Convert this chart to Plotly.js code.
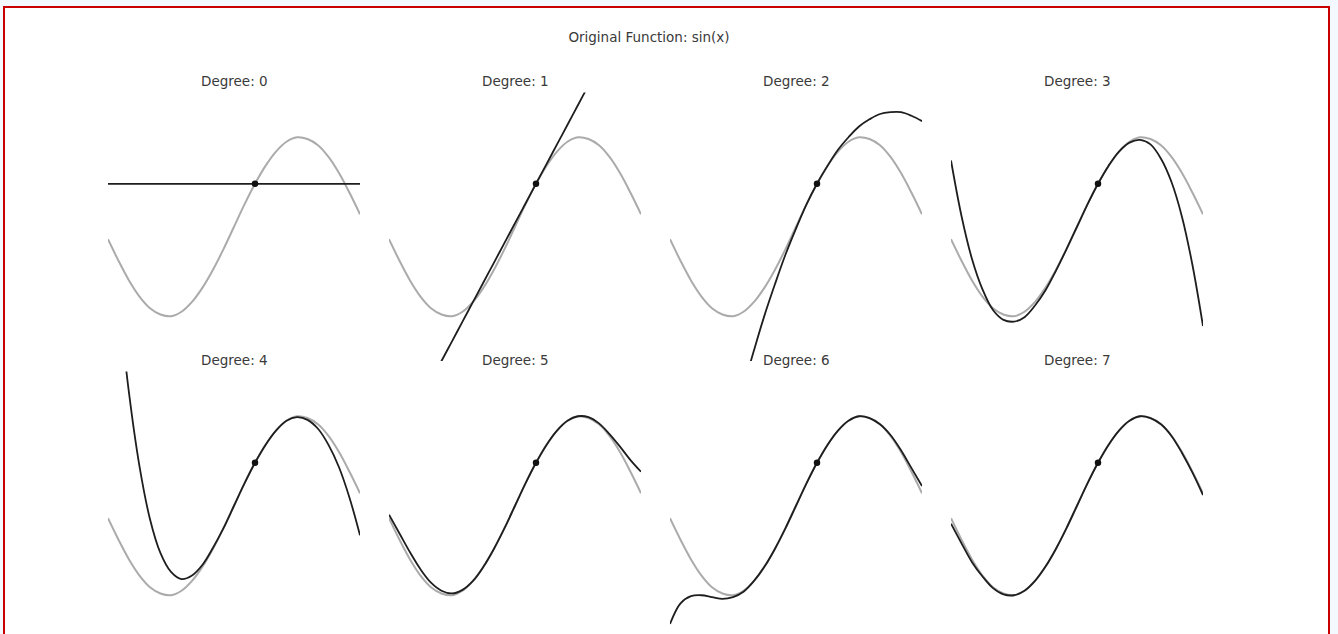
<!DOCTYPE html>
<html>
<head>
<meta charset="utf-8">
<script src="https://cdn.plot.ly/plotly-3.0.1.min.js"></script>
<style>
  html, body { margin: 0; padding: 0; overflow: hidden; background: #f3f9ff; }
  #frame {
    position: absolute; left: 3px; top: 6px; width: 1327px; height: 700px;
    box-sizing: border-box; border: 2px solid #c80000; border-bottom: none; background: #fff;
  }
  #myPlot { position: absolute; left: 0; top: 0; width: 1338px; height: 660px; }
</style>
</head>
<body>
<div id="frame"></div>
<div id="myPlot"></div>
<script>
// sample points along x
const xVals = [-3, -2.75, -2.5, -2.25, -2, -1.75, -1.5, -1.25, -1, -0.75, -0.5, -0.25, 0,
               0.25, 0.5, 0.75, 1, 1.25, 1.5, 1.75, 2, 2.25, 2.5, 2.75, 3];

// grey curve: the original function
const sinVals = [-0.14, -0.38, -0.60, -0.78, -0.91, -0.98, -1.00, -0.95, -0.84, -0.68, -0.48, -0.25, 0.00,
                 0.25, 0.48, 0.68, 0.84, 0.95, 1.00, 0.98, 0.91, 0.78, 0.60, 0.38, 0.14];

// black curves: approximation of each degree
const deg0 = [0.48, 0.48, 0.48, 0.48, 0.48, 0.48, 0.48, 0.48, 0.48, 0.48, 0.48, 0.48, 0.48,
              0.48, 0.48, 0.48, 0.48, 0.48, 0.48, 0.48, 0.48, 0.48, 0.48, 0.48, 0.48];
const deg1 = [-2.59, -2.37, -2.15, -1.93, -1.71, -1.50, -1.28, -1.06, -0.84, -0.62, -0.40, -0.18, 0.04,
              0.26, 0.48, 0.70, 0.92, 1.14, 1.36, 1.58, 1.80, 2.02, 2.23, 2.45, 2.67];
const deg2 = [-5.53, -4.90, -4.31, -3.75, -3.21, -2.71, -2.23, -1.79, -1.38, -0.99, -0.64, -0.31, -0.02,
              0.25, 0.48, 0.68, 0.86, 1.00, 1.12, 1.20, 1.26, 1.28, 1.28, 1.24, 1.18];
const deg3 = [0.74, 0.12, -0.36, -0.70, -0.93, -1.04, -1.06, -1.01, -0.88, -0.71, -0.49, -0.25, 0.00,
              0.25, 0.48, 0.68, 0.84, 0.94, 0.97, 0.92, 0.76, 0.50, 0.11, -0.43, -1.11];
const deg4 = [3.74, 2.34, 1.26, 0.44, -0.15, -0.53, -0.74, -0.82, -0.78, -0.66, -0.47, -0.25, 0.00,
              0.25, 0.48, 0.68, 0.84, 0.95, 0.99, 0.96, 0.86, 0.68, 0.43, 0.09, -0.33];
const deg5 = [-0.10, -0.31, -0.52, -0.71, -0.86, -0.95, -0.98, -0.94, -0.84, -0.68, -0.48, -0.25, 0.00,
              0.25, 0.48, 0.68, 0.84, 0.95, 1.00, 0.99, 0.92, 0.80, 0.66, 0.51, 0.38];
const deg6 = [-1.32, -1.09, -1.01, -1.00, -1.02, -1.04, -1.02, -0.96, -0.84, -0.68, -0.48, -0.25, 0.00,
              0.25, 0.48, 0.68, 0.84, 0.95, 1.00, 0.98, 0.91, 0.79, 0.62, 0.42, 0.22];
const deg7 = [-0.20, -0.42, -0.63, -0.79, -0.92, -0.99, -1.00, -0.95, -0.84, -0.68, -0.48, -0.25, 0.00,
              0.25, 0.48, 0.68, 0.84, 0.95, 1.00, 0.98, 0.91, 0.78, 0.59, 0.37, 0.12];

const degrees = [0, 1, 2, 3, 4, 5, 6, 7];
const approx = [deg0, deg1, deg2, deg3, deg4, deg5, deg6, deg7];

// expansion point
const centerX = [0.5];
const centerY = [0.48];

const mainTitle = "Original Function: sin(x)";

// pixel geometry of the figure
const W = 1338, H = 660;
const panelW = 252, panelStep = 281, firstLeft = 108;
const rowTop = [92.5, 371.5], rowH = 268.5;

const textFont = {family: "DejaVu Sans, sans-serif", size: 13.5, color: "#3a3a3a"};

let data = [];
let layout = {
  width: W, height: H,
  margin: {l: 0, r: 0, t: 0, b: 0},
  paper_bgcolor: "rgba(0,0,0,0)",
  plot_bgcolor: "rgba(0,0,0,0)",
  showlegend: false,
  title: {text: mainTitle, font: textFont, x: 649 / W, xanchor: "center",
          y: 1 - 37 / H, yanchor: "middle", xref: "paper", yref: "paper"},
  annotations: []
};

degrees.forEach(function (d, i) {
  const col = i % 4, row = Math.floor(i / 4);
  const n = i + 1;
  const xa = "x" + (n === 1 ? "" : n), ya = "y" + (n === 1 ? "" : n);
  const left = firstLeft + col * panelStep;
  const top = rowTop[row];

  layout["xaxis" + (n === 1 ? "" : n)] = {
    domain: [left / W, (left + panelW) / W],
    range: [-3, 3], visible: false, fixedrange: true, anchor: ya
  };
  layout["yaxis" + (n === 1 ? "" : n)] = {
    domain: [1 - (top + rowH) / H, 1 - top / H],
    range: [-1.5, 1.5], visible: false, fixedrange: true, anchor: xa
  };

  data.push({
    x: xVals, y: sinVals, xaxis: xa, yaxis: ya, mode: "lines",
    line: {color: "#ababab", width: 2, shape: "spline"}, hoverinfo: "skip"
  });
  data.push({
    x: xVals, y: approx[i], xaxis: xa, yaxis: ya, mode: "lines",
    line: {color: "#1e1e1e", width: 1.8, shape: "spline"}, hoverinfo: "skip"
  });
  data.push({
    x: centerX, y: centerY, xaxis: xa, yaxis: ya, mode: "markers",
    marker: {color: "#111", size: 6.5}, hoverinfo: "skip"
  });

  layout.annotations.push({
    text: "Degree: " + d, font: textFont, showarrow: false,
    xref: "paper", yref: "paper",
    x: (left + panelW / 2) / W, xanchor: "center",
    y: 1 - (top - 11.5) / H, yanchor: "middle"
  });
});

Plotly.newPlot("myPlot", data, layout, {staticPlot: true});
</script>
</body>
</html>
